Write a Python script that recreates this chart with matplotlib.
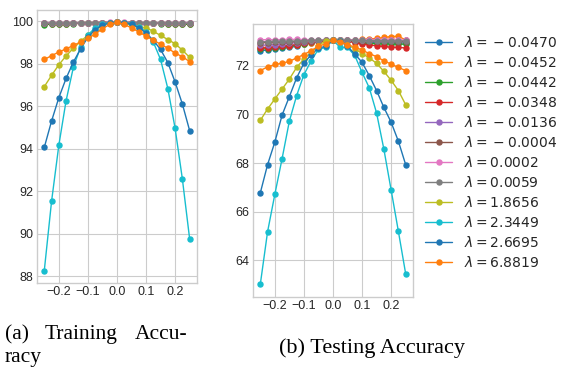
import numpy as np
import matplotlib
matplotlib.use("Agg")
import matplotlib.pyplot as plt

# perturbation steps
eps = [-0.25, -0.225, -0.2, -0.175, -0.15, -0.125, -0.1, -0.075, -0.05, -0.025, 0.0,
       0.025, 0.05, 0.075, 0.1, 0.125, 0.15, 0.175, 0.2, 0.225, 0.25]

lambdas = ["-0.0470", "-0.0452", "-0.0442", "-0.0348", "-0.0136", "-0.0004",
           "0.0002", "0.0059", "1.8656", "2.3449", "2.6695", "6.8819"]

# training accuracy, one list per lambda
train_acc = [
    [99.88, 99.88, 99.89, 99.89, 99.9, 99.9, 99.91, 99.92, 99.93, 99.94, 99.95,
     99.94, 99.93, 99.92, 99.91, 99.9, 99.9, 99.89, 99.89, 99.88, 99.88],
    [99.88, 99.88, 99.89, 99.89, 99.9, 99.9, 99.91, 99.92, 99.93, 99.94, 99.95,
     99.94, 99.93, 99.92, 99.91, 99.9, 99.9, 99.89, 99.89, 99.88, 99.88],
    [99.84, 99.86, 99.87, 99.88, 99.89, 99.9, 99.91, 99.92, 99.93, 99.94, 99.95,
     99.94, 99.93, 99.92, 99.91, 99.9, 99.89, 99.88, 99.87, 99.86, 99.85],
    [99.9, 99.9, 99.9, 99.91, 99.91, 99.92, 99.92, 99.93, 99.94, 99.94, 99.95,
     99.94, 99.94, 99.93, 99.92, 99.92, 99.91, 99.91, 99.9, 99.9, 99.9],
    [99.91, 99.91, 99.91, 99.92, 99.92, 99.92, 99.93, 99.93, 99.94, 99.94, 99.95,
     99.94, 99.94, 99.93, 99.93, 99.92, 99.92, 99.92, 99.91, 99.91, 99.91],
    [99.9, 99.9, 99.91, 99.91, 99.91, 99.92, 99.92, 99.93, 99.94, 99.94, 99.95,
     99.94, 99.94, 99.93, 99.92, 99.92, 99.91, 99.91, 99.91, 99.9, 99.9],
    [99.92, 99.92, 99.92, 99.92, 99.93, 99.93, 99.93, 99.94, 99.94, 99.95, 99.95,
     99.95, 99.94, 99.94, 99.93, 99.93, 99.93, 99.92, 99.92, 99.92, 99.92],
    [99.91, 99.91, 99.91, 99.92, 99.92, 99.92, 99.93, 99.93, 99.94, 99.94, 99.95,
     99.94, 99.94, 99.93, 99.93, 99.92, 99.92, 99.92, 99.91, 99.91, 99.91],
    [96.92, 97.45, 97.95, 98.37, 98.73, 99.05, 99.35, 99.6, 99.8, 99.92, 99.95,
     99.9, 99.82, 99.75, 99.69, 99.53, 99.33, 99.14, 98.94, 98.64, 98.3],
    [88.26, 91.52, 94.16, 96.26, 97.83, 98.8, 99.35, 99.7, 99.85, 99.93, 99.95,
     99.93, 99.88, 99.75, 99.5, 99.02, 98.2, 96.83, 94.96, 92.57, 89.75],
    [94.06, 95.3, 96.4, 97.31, 98.08, 98.7, 99.25, 99.6, 99.82, 99.92, 99.95,
     99.93, 99.85, 99.7, 99.45, 99.1, 98.67, 98.05, 97.14, 96.1, 94.85],
    [98.2, 98.38, 98.55, 98.7, 98.86, 99.03, 99.19, 99.4, 99.65, 99.85, 99.95,
     99.85, 99.69, 99.5, 99.3, 99.11, 98.92, 98.73, 98.5, 98.33, 98.1],
]

# testing accuracy, one list per lambda
test_acc = [
    [72.62, 72.64, 72.68, 72.72, 72.75, 72.8, 72.88, 72.95, 73.0, 73.03, 73.05,
     73.05, 73.03, 73.0, 72.98, 72.97, 72.96, 72.95, 72.95, 72.94, 72.93],
    [72.75, 72.76, 72.78, 72.8, 72.82, 72.85, 72.9, 72.95, 73.0, 73.03, 73.05,
     73.05, 73.06, 73.05, 73.08, 73.1, 73.12, 73.16, 73.2, 73.21, 73.06],
    [72.68, 72.7, 72.73, 72.76, 72.8, 72.84, 72.9, 72.96, 73.0, 73.03, 73.05,
     73.04, 73.02, 72.98, 72.95, 72.92, 72.9, 72.9, 72.89, 72.89, 72.88],
    [72.72, 72.74, 72.77, 72.8, 72.83, 72.87, 72.92, 72.96, 73.0, 73.03, 73.05,
     73.03, 73.0, 72.95, 72.9, 72.85, 72.82, 72.79, 72.76, 72.75, 72.73],
    [72.84, 72.85, 72.87, 72.89, 72.92, 72.95, 72.98, 73.01, 73.03, 73.04, 73.05,
     73.05, 73.05, 73.06, 73.06, 73.06, 73.06, 73.05, 73.05, 73.05, 73.04],
    [72.94, 72.95, 72.96, 72.97, 72.98, 72.99, 73.0, 73.02, 73.03, 73.04, 73.05,
     73.05, 73.04, 73.03, 73.02, 73.02, 73.01, 73.0, 73.0, 72.99, 72.99],
    [73.07, 73.07, 73.07, 73.07, 73.08, 73.08, 73.07, 73.07, 73.06, 73.06, 73.05,
     73.06, 73.06, 73.07, 73.07, 73.07, 73.06, 73.06, 73.05, 73.05, 73.04],
    [72.98, 72.99, 73.0, 73.0, 73.01, 73.02, 73.03, 73.04, 73.04, 73.05, 73.05,
     73.05, 73.05, 73.04, 73.04, 73.03, 73.03, 73.03, 73.02, 73.02, 73.02],
    [69.75, 70.22, 70.63, 71.04, 71.45, 71.93, 72.27, 72.55, 72.82, 73.03, 73.05,
     73.0, 72.85, 72.7, 72.5, 72.32, 72.1, 71.77, 71.4, 70.98, 70.4],
    [63.01, 65.17, 66.71, 68.18, 69.72, 70.77, 71.63, 72.2, 72.68, 72.75, 73.05,
     72.75, 72.75, 72.42, 71.73, 71.09, 70.06, 68.58, 66.9, 65.2, 63.46],
    [66.77, 67.93, 68.86, 69.97, 70.73, 71.5, 72.1, 72.45, 72.72, 72.8, 73.05,
     73.0, 72.8, 72.48, 72.14, 71.59, 70.98, 70.29, 69.68, 68.9, 67.94],
    [71.8, 71.95, 72.05, 72.1, 72.18, 72.32, 72.46, 72.62, 72.8, 72.9, 73.05,
     72.98, 72.85, 72.78, 72.64, 72.5, 72.37, 72.2, 72.07, 71.93, 71.8],
]

colors = ["C0", "C1", "C2", "C3", "C4", "C5", "C6", "C7", "C8", "C9", "C0", "C1"]

plt.style.use("seaborn-v0_8-whitegrid")
plt.rcParams["xtick.labelsize"] = 9
plt.rcParams["ytick.labelsize"] = 9

fig = plt.figure(figsize=(5.61, 3.67), dpi=100)
ax1 = fig.add_axes([0.066, 0.229, 0.285, 0.744])
ax2 = fig.add_axes([0.451, 0.191, 0.285, 0.744])

handles = []
for i, lam in enumerate(lambdas):
    if lam.startswith("-"):
        # old-style binary minus spacing
        lab = r"$\lambda = \:-\: %s$" % lam[1:]
    else:
        lab = r"$\lambda = %s$" % lam
    h, = ax1.plot(eps, train_acc[i], "-o", color=colors[i], lw=1.0, ms=3.6, label=lab)
    ax2.plot(eps, test_acc[i], "-o", color=colors[i], lw=1.0, ms=3.6)
    handles.append(h)

for ax in (ax1, ax2):
    ax.set_xticks([-0.2, -0.1, 0.0, 0.1, 0.2])
    ax.tick_params(axis="both", pad=2.5)
ax1.set_yticks([88, 90, 92, 94, 96, 98, 100])
ax2.set_yticks([64, 66, 68, 70, 72])

fig.legend(handles=handles, loc="upper left", bbox_to_anchor=(0.757, 0.905),
           frameon=False, fontsize=10, borderpad=0, borderaxespad=0,
           labelspacing=0.36, handlelength=2.0, handletextpad=0.8)

cap = dict(family="Liberation Serif", fontsize=15.5, color="black")
fig.text(5 / 561, 1 - 339 / 367, "(a)", va="baseline", **cap)
fig.text(45 / 561, 1 - 339 / 367, "Training", va="baseline", **cap)
fig.text(135 / 561, 1 - 339 / 367, "Accu-", va="baseline", **cap)
fig.text(5 / 561, 1 - 362 / 367, "racy", va="baseline", **cap)
fig.text(279 / 561, 1 - 352.5 / 367, "(b) Testing Accuracy", va="baseline",
         family="Liberation Serif", fontsize=16, color="black")

fig.savefig("out.png", dpi=100)
